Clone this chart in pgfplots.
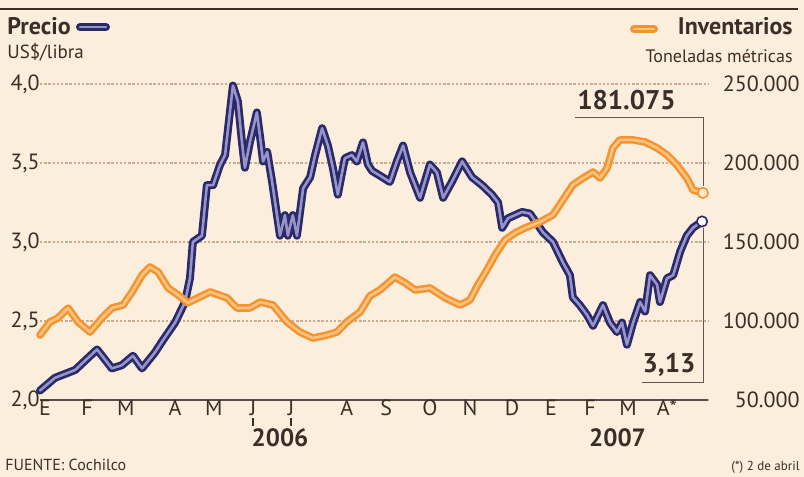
\documentclass[border=0pt]{standalone}
\usepackage{pgfplots}
\usepackage{pgfplotstable}
\pgfplotsset{compat=1.18}
\usepackage{fontspec}
\setmainfont{PT Sans}
\definecolor{bg}{HTML}{FCEEDC}
\definecolor{navy}{HTML}{2B2A68}
\definecolor{lav}{HTML}{9794CC}
\definecolor{orng}{HTML}{F39433}
\definecolor{lorng}{HTML}{FDC27C}
\definecolor{gridc}{HTML}{C9AD92}
\definecolor{ink}{HTML}{3A2E28}

\pgfplotstableread{
m v
-0.12 2.06
0.24 2.14
0.73 2.19
1.26 2.32
1.62 2.20
1.86 2.22
2.13 2.28
2.35 2.20
2.66 2.30
2.86 2.38
3.15 2.49
3.39 2.62
3.51 2.77
3.58 3.00
3.80 3.04
3.92 3.36
4.07 3.36
4.24 3.49
4.36 3.55
4.55 3.99
4.67 3.89
4.77 3.63
4.84 3.47
4.96 3.63
5.13 3.82
5.21 3.66
5.28 3.51
5.38 3.57
5.50 3.38
5.69 3.04
5.81 3.17
5.88 3.04
6.00 3.17
6.10 3.04
6.25 3.34
6.42 3.41
6.54 3.55
6.71 3.72
6.85 3.61
6.97 3.47
7.09 3.30
7.26 3.53
7.43 3.55
7.55 3.51
7.70 3.63
7.82 3.49
7.92 3.45
8.11 3.42
8.35 3.38
8.52 3.51
8.67 3.61
8.84 3.44
9.08 3.28
9.32 3.49
9.49 3.44
9.64 3.28
9.85 3.38
10.10 3.51
10.34 3.41
10.58 3.36
10.82 3.30
10.97 3.25
11.07 3.09
11.21 3.15
11.55 3.19
11.74 3.18
12.06 3.06
12.30 3.00
12.54 2.87
12.71 2.79
12.78 2.65
12.95 2.60
13.12 2.54
13.27 2.47
13.51 2.60
13.68 2.49
13.85 2.43
13.97 2.49
14.09 2.35
14.24 2.49
14.41 2.62
14.53 2.56
14.65 2.79
14.82 2.73
14.89 2.62
15.06 2.77
15.21 2.79
15.38 2.94
15.54 3.04
15.69 3.09
15.91 3.13
}\pricedata

\pgfplotstableread{
m t
-0.12 91100
0.12 99400
0.31 101900
0.56 108200
0.80 99400
1.09 93000
1.38 101900
1.62 108200
1.89 110100
2.11 118400
2.35 129100
2.54 134200
2.74 131000
2.98 120900
3.22 116500
3.46 111500
3.70 114600
4.00 118400
4.41 114600
4.65 108200
4.96 108200
5.21 112000
5.52 110100
5.86 99400
6.17 93000
6.49 89200
6.83 91100
7.07 93000
7.31 99400
7.63 105700
7.87 116000
8.11 119600
8.47 127800
8.72 124100
8.96 119600
9.32 120900
9.69 114600
10.05 110100
10.29 113300
10.48 122800
10.70 132300
10.90 141800
11.14 151300
11.38 155700
11.62 158900
11.99 162700
12.30 167100
12.54 176600
12.78 186100
13.03 190500
13.27 194300
13.44 190500
13.61 196800
13.75 209500
13.92 214600
14.24 214600
14.53 213300
14.82 209500
15.06 205100
15.30 198700
15.54 190500
15.69 182900
15.93 181075
}\invdata

\begin{document}
\begin{tikzpicture}[font=\fontsize{11}{13}\selectfont, text=ink]
\fill[bg] (-20pt,-38.5pt) rectangle (382pt,200pt);
\useasboundingbox (-20pt,-38.5pt) rectangle (382pt,200pt);

\begin{axis}[
  at={(0pt,0pt)}, anchor=south west,
  scale only axis, width=334pt, height=158pt,
  xmin=-0.121, xmax=16.053, ymin=2, ymax=4,
  clip=false,
  axis x line*=bottom, axis y line*=left,
  separate axis lines,
  x axis line style={line width=1.4pt, draw=ink!85},
  y axis line style={draw=none},
  tick style={draw=none},
  ytick={2,2.5,3,3.5,4},
  yticklabels={{2,0},{2,5},{3,0},{3,5},{4,0}},
  yticklabel style={anchor=east, inner sep=0pt, xshift=0pt},
  xtick={0,1.02,1.96,3.15,4.09,5.04,5.96,7.31,8.26,9.32,10.29,11.31,12.25,13.20,14.12,15.06},
  xticklabels={E,F,M,A,M,J,J,A,S,O,N,D,E,F,M,A*},
  xticklabel style={anchor=base, inner sep=0pt, yshift=-7.5pt},
  ymajorgrids,
  grid style={gridc, line width=0.7pt, dash pattern=on 1.2pt off 0.9pt},
]
\addplot[navy, line width=4pt, line join=round, line cap=round] table[x=m, y=v] {\pricedata};
\addplot[lav, line width=1.3pt, line join=round, line cap=round] table[x=m, y=v] {\pricedata};
\addplot[only marks, mark=*, mark size=2.6pt, mark options={fill=white, draw=navy, line width=0.8pt}] coordinates {(15.91,3.13)};
\end{axis}

\begin{axis}[
  at={(0pt,0pt)}, anchor=south west,
  scale only axis, width=334pt, height=158pt,
  xmin=-0.121, xmax=16.053, ymin=50000, ymax=250000,
  clip=false,
  axis x line=none,
  axis y line*=right,
  y axis line style={draw=none},
  tick style={draw=none},
  scaled y ticks=false,
  xtick=\empty,
  ytick={50000,100000,150000,200000,250000},
  yticklabels={{50.000},{100.000},{150.000},{200.000},{250.000}},
  yticklabel style={anchor=east, inner sep=0pt, xshift=46pt},
]
\addplot[orng, line width=3.8pt, line join=round, line cap=round] table[x=m, y=t] {\invdata};
\addplot[lorng, line width=1.3pt, line join=round, line cap=round] table[x=m, y=t] {\invdata};
\addplot[only marks, mark=*, mark size=2.6pt, mark options={fill=lorng!40!white, draw=orng, line width=0.8pt}] coordinates {(15.93,181075)};
\end{axis}

% annotations
\draw[ink!80, line width=0.5pt] (267.5pt,141pt) -- (331.5pt,141pt) -- (331.5pt,107pt);
\draw[ink!80, line width=0.5pt] (331.5pt,86pt) -- (331.5pt,9pt) -- (301pt,9pt);
\node[anchor=base, font=\bfseries\fontsize{13.5}{15}\selectfont] at (293.25pt,145pt) {181.075};
\node[anchor=base, font=\bfseries\fontsize{13.5}{15}\selectfont] at (314.5pt,13.5pt) {3,13};

% header
\draw[ink, line width=1pt] (-20pt,195.5pt) -- (379pt,195.5pt);
\node[anchor=base west, inner sep=0pt, font=\bfseries\fontsize{12}{14}\selectfont] at (-16.5pt,182.5pt) {Precio};
\draw[navy, line width=4pt, line cap=round] (20pt,186.5pt) -- (33pt,186.5pt);
\draw[lav, line width=1.2pt, line cap=round] (20pt,186.5pt) -- (33pt,186.5pt);
\node[anchor=base west, inner sep=0pt, font=\fontsize{9.5}{11}\selectfont] at (-16.5pt,170.5pt) {US\$/libra};
\node[anchor=base east, inner sep=0pt, font=\bfseries\fontsize{12}{14}\selectfont] at (376.5pt,182.5pt) {Inventarios};
\draw[orng, line width=4pt, line cap=round] (297pt,185.5pt) -- (307pt,185.5pt);
\draw[lorng, line width=1.2pt, line cap=round] (297pt,185.5pt) -- (307pt,185.5pt);
\node[anchor=base east, inner sep=0pt, font=\fontsize{9}{11}\selectfont] at (376.5pt,168.5pt) {Toneladas métricas};

% years and footer
\draw[ink, line width=0.8pt] (106.5pt,-9pt) -- (106.5pt,-13pt);
\draw[ink, line width=0.8pt] (125.5pt,-9pt) -- (125.5pt,-13pt);
\node[anchor=base, inner sep=0pt, font=\bfseries\fontsize{12.5}{14}\selectfont] at (120pt,-23pt) {2006};
\node[anchor=base, inner sep=0pt, font=\bfseries\fontsize{12.5}{14}\selectfont] at (288.75pt,-23pt) {2007};
\node[anchor=base west, inner sep=0pt, font=\fontsize{8}{10}\selectfont] at (-17.5pt,-35pt) {FUENTE: Cochilco};
\node[anchor=base east, inner sep=0pt, font=\fontsize{6.5}{8}\selectfont] at (380pt,-35pt) {(*) 2 de abril};
\end{tikzpicture}
\end{document}
